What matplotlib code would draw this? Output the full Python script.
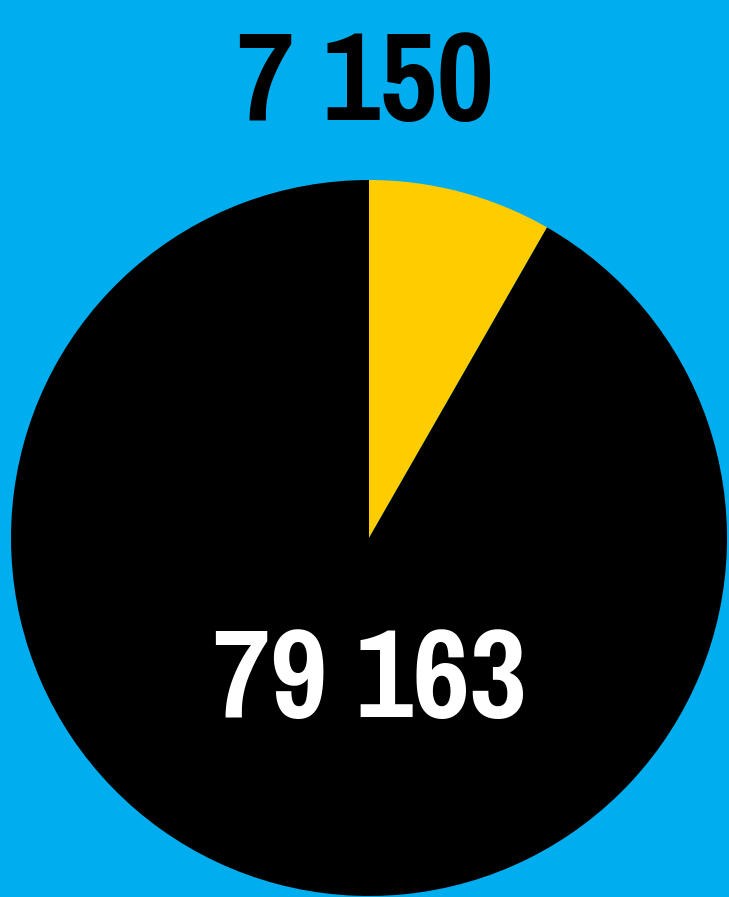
import matplotlib
matplotlib.use("Agg")
import matplotlib.pyplot as plt

labels = ["7 150", "79 163"]
values = [7150, 79163]
colors = ["#FFCC00", "#000000"]

fig = plt.figure(figsize=(7.29, 8.97), dpi=100)
fig.patch.set_facecolor("#00AEEF")

# pie area, square in pixels
ax = fig.add_axes([11 / 729, (897 - 538 - 358) / 897, 716 / 729, 716 / 897])
ax.pie(values, colors=colors, startangle=90, counterclock=False,
       wedgeprops=dict(linewidth=0))
ax.set_aspect("equal")
ax.set_xlim(-1, 1)
ax.set_ylim(-1, 1)
ax.axis("off")

font = dict(family=["Pragati Narrow", "DejaVu Sans"], weight="bold")
fig.text(365 / 729, 1 - 120 / 897, labels[0], ha="center", va="baseline",
         fontsize=98, color="black", **font)
ax.text(0.003, -0.5, labels[1], ha="center", va="baseline",
        fontsize=98, color="white", **font)

fig.savefig("out.png", dpi=100, facecolor=fig.get_facecolor())
